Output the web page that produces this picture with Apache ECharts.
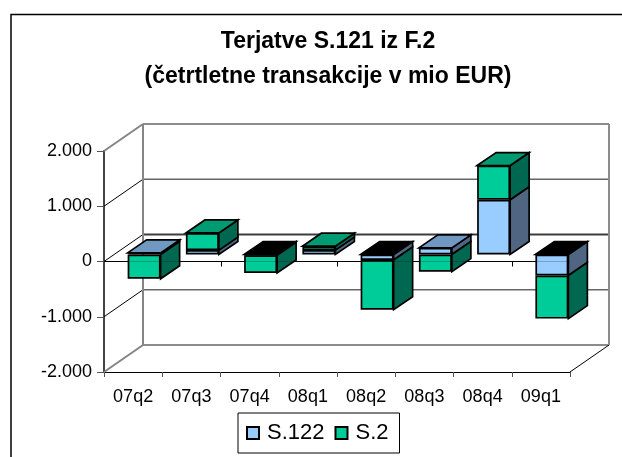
<!DOCTYPE html>
<html><head><meta charset="utf-8">
<style>html,body{margin:0;padding:0;background:#fff}#c{width:622px;height:457px}</style>
<script src="https://cdn.jsdelivr.net/npm/echarts@6/dist/echarts.min.js"></script>
</head><body><div id="c"></div>
<script>
const categories = ['07q2','07q3','07q4','08q1','08q2','08q3','08q4','09q1'];
const s122 = [30, 80, -15, 80, -100, 120, 990, -380];
const s2 = [-440, 310, -320, 70, -900, -310, 620, -780];
const yTicks = [-2000, -1000, 0, 1000, 2000];

const FONT = '"Liberation Sans", Arial, sans-serif';
const DEPTH_X = 39, DEPTH_Y = 27, BAR_DX = 19, BAR_DY = 13, BAR_W = 33;
const sideColors = ['#4f6582', '#006850'];
const topColors = ['#7098c0', '#009a73'];

// side and top faces of the stacked boxes: [category, low, high, series, isTop]
const faceRows = [];
categories.forEach((c, i) => {
  let pos = 0, neg = 0, topSeries = -1;
  [s122[i], s2[i]].forEach((v, s) => {
    if (v >= 0) { faceRows.push([i, pos, pos + v, s, 0]); pos += v; topSeries = s; }
    else { faceRows.push([i, neg + v, neg, s, 0]); neg += v; }
  });
  faceRows.push([i, pos, pos, topSeries, 1]);
});

function renderFaces(params, api) {
  const cat = api.value(0), low = api.value(1), high = api.value(2), s = api.value(3), isTop = api.value(4);
  const a = api.coord([cat, high]), b = api.coord([cat, low]);
  const x1 = a[0] + BAR_W / 2, x0 = a[0] - BAR_W / 2;
  const pts = isTop
    ? [[x0, a[1]], [x0 + BAR_DX, a[1] - BAR_DY], [x1 + BAR_DX, a[1] - BAR_DY], [x1, a[1]]]
    : [[x1, a[1]], [x1 + BAR_DX, a[1] - BAR_DY], [x1 + BAR_DX, b[1] - BAR_DY], [x1, b[1]]];
  const fill = isTop ? (s < 0 ? '#000' : topColors[s]) : sideColors[s];
  return { type: 'polygon', shape: { points: pts }, style: { fill, stroke: '#000', lineWidth: 1.7, lineJoin: 'miter' } };
}

function line(x1, y1, x2, y2, stroke, w) {
  return { type: 'line', shape: { x1, y1, x2, y2 }, style: { stroke, lineWidth: w } };
}
function renderWall(params, api) {
  const v = api.value(1), cs = params.coordSys, y = api.coord([0, v])[1];
  const outer = Math.abs(v) === 2000;
  const L = cs.x, R = cs.x + cs.width;
  const kids = [];
  const by = y - DEPTH_Y, bl = L + DEPTH_X, br = R + DEPTH_X;
  kids.push(line(L, y, bl, by, outer ? '#858585' : '#000', outer ? 2 : 1));
  kids.push(line(bl, by, br, by, outer ? '#8c8c8c' : (v === 0 ? '#3c3c3c' : '#666'), outer ? 2 : (v === 0 ? 2 : 1.5)));
  if (v === 2000) {
    kids.push(line(bl, by, bl, by + cs.height, '#858585', 2));
    kids.push(line(br, by, br, by + cs.height, '#8c8c8c', 2));
  }
  if (v === -2000) kids.push(line(R, y, br, by, '#000', 1));
  if (v === 0) {
    kids.push(line(L, y, R, y, '#000', 1));
    categories.forEach((c, i) => {
      const tx = Math.round(L + (i + 1) * cs.width / categories.length) + 0.5;
      kids.push(line(tx, y, tx, y + 5, '#000', 1));
    });
  }
  return { type: 'group', children: kids };
}
function renderZeroOverlay(params, api) {
  const cs = params.coordSys, y = api.coord([0, api.value(1)])[1];
  return line(cs.x, y, cs.x + cs.width, y, 'rgba(0,0,0,0.22)', 1);
}

const chart = echarts.init(document.getElementById('c'), null, { renderer: 'canvas' });
chart.setOption({
  animation: false,
  backgroundColor: '#fff',
  textStyle: { fontFamily: FONT },
  title: {
    text: 'Terjatve S.121 iz F.2\n(četrtletne transakcije v mio EUR)',
    left: 323, top: 19, textAlign: 'center',
    textStyle: { fontFamily: FONT, fontWeight: 'bold', fontSize: 23, lineHeight: 35, color: '#000' }
  },
  legend: {
    data: ['S.122', 'S.2'], left: 238, top: 413, orient: 'horizontal',
    padding: [9, 11, 9, 8], itemWidth: 12, itemHeight: 12, itemGap: 10,
    backgroundColor: '#fff', borderColor: '#000', borderWidth: 1, borderRadius: 0,
    icon: 'rect', itemStyle: { borderColor: '#000', borderWidth: 2 },
    textStyle: { fontFamily: FONT, fontSize: 22, color: '#000', padding: [0, 0, 0, 3] }
  },
  grid: [
    { left: 104, top: 151, width: 466, height: 221 },
    { left: 115, top: 144, width: 466, height: 221 }
  ],
  xAxis: [
    { type: 'category', gridIndex: 0, data: categories, position: 'bottom',
      axisLine: { onZero: false, lineStyle: { color: '#000', width: 1 } },
      axisTick: { show: true, alignWithLabel: false, length: 5, lineStyle: { color: '#555' } },
      axisLabel: { fontFamily: FONT, fontSize: 18, color: '#000', margin: 16, interval: 0 },
      splitLine: { show: false } },
    { type: 'category', gridIndex: 1, data: categories, show: false }
  ],
  yAxis: [
    { type: 'value', gridIndex: 0, min: -2000, max: 2000, interval: 1000,
      axisLine: { show: true, lineStyle: { color: '#444', width: 2 } },
      axisTick: { show: true, length: 7, lineStyle: { color: '#555' } },
      axisLabel: { fontFamily: FONT, fontSize: 18, color: '#000', margin: 12,
        formatter: v => String(v).replace(/(\d)(\d{3})$/, '$1.$2') },
      splitLine: { show: false } },
    { type: 'value', gridIndex: 1, min: -2000, max: 2000, interval: 1000, show: false }
  ],
  series: [
    { type: 'custom', name: 'walls', xAxisIndex: 0, yAxisIndex: 0, z: 1, silent: true,
      renderItem: renderWall, data: yTicks.map(v => [0, v]), encode: { x: 0, y: 1 } },
    { type: 'custom', name: 'faces', xAxisIndex: 1, yAxisIndex: 1, z: 2, silent: true,
      renderItem: renderFaces, data: faceRows, encode: { x: 0, y: [1, 2] } },
    { type: 'bar', name: 'S.122', stack: 'a', xAxisIndex: 1, yAxisIndex: 1, barWidth: BAR_W, z: 3, data: s122,
      itemStyle: { color: '#99ccff', borderColor: '#000', borderWidth: 1.7 } },
    { type: 'bar', name: 'S.2', stack: 'a', xAxisIndex: 1, yAxisIndex: 1, barWidth: BAR_W, z: 3, data: s2,
      itemStyle: { color: '#00cc99', borderColor: '#000', borderWidth: 1.7 } },
    { type: 'custom', name: 'zero', xAxisIndex: 0, yAxisIndex: 0, z: 4, silent: true,
      renderItem: renderZeroOverlay, data: [[0, 0]], encode: { x: 0, y: 1 } }
  ],
  graphic: [
    { type: 'polyline', z: 100, silent: true, shape: { points: [[11, 457], [11, 14.5], [622, 14.5]] },
      style: { stroke: '#000', lineWidth: 1.5, fill: null } }
  ]
});
</script></body></html>
